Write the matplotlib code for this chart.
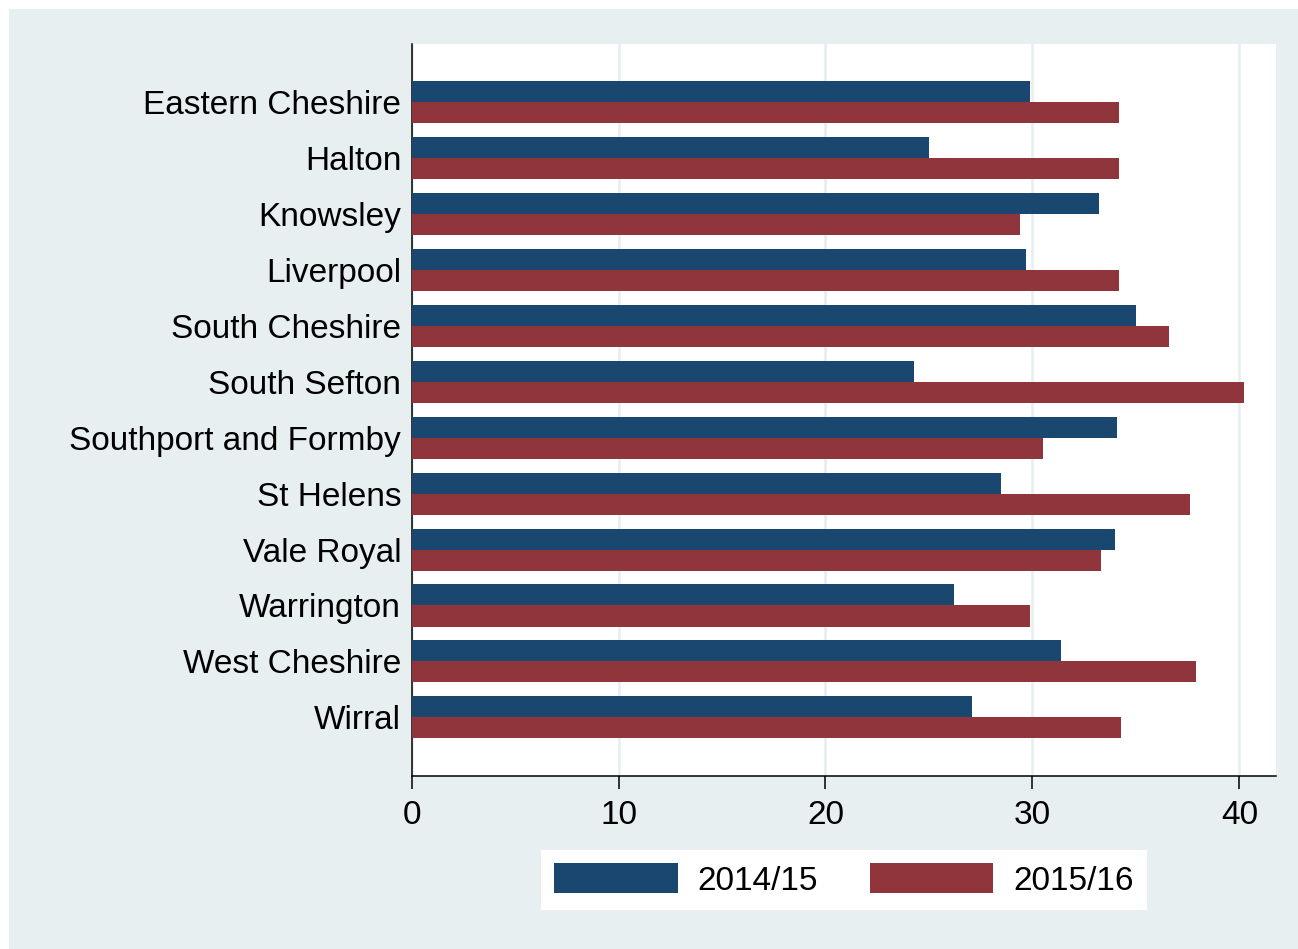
import matplotlib
matplotlib.use("Agg")
import matplotlib.pyplot as plt
from matplotlib.patches import Rectangle, Patch
import numpy as np

plt.rcParams['font.family'] = ['Liberation Sans', 'DejaVu Sans']

categories = ["Eastern Cheshire", "Halton", "Knowsley", "Liverpool", "South Cheshire",
              "South Sefton", "Southport and Formby", "St Helens", "Vale Royal",
              "Warrington", "West Cheshire", "Wirral"]
series_labels = ["2014/15", "2015/16"]
values_2014 = [29.9, 25.0, 33.2, 29.7, 35.0, 24.3, 34.1, 28.5, 34.0, 26.2, 31.4, 27.1]
values_2015 = [34.2, 34.2, 29.4, 34.2, 36.6, 40.2, 30.5, 37.6, 33.3, 29.9, 37.9, 34.3]
x_ticks = [0, 10, 20, 30, 40]

BLUE = "#1a476f"
RED = "#90353b"
BG = "#e8eff1"
GRID = "#e6eef0"
FS = 24

W, H = 1298, 949
fig = plt.figure(figsize=(W / 100, H / 100), dpi=100, facecolor="white")
fig.patches.append(Rectangle((9 / W, 0), 1 - 9 / W, 1 - 9 / H, transform=fig.transFigure,
                             facecolor=BG, edgecolor="none", zorder=-10))

left, right, top, bottom = 411.6 / W, 1276 / W, 1 - 44 / H, 1 - 776 / H
ax = fig.add_axes([left, bottom, right - left, top - bottom])
ax.set_facecolor("white")

y = np.arange(len(categories))
h = 0.376
ax.barh(y - h / 2, values_2014, height=h, color=BLUE, edgecolor="none", zorder=3, label=series_labels[0])
ax.barh(y + h / 2, values_2015, height=h, color=RED, edgecolor="none", zorder=3, label=series_labels[1])

ax.set_ylim(12.05, -1.043)
ax.set_xlim(0, 41.77)
ax.set_yticks(y)
ax.set_yticklabels(categories, fontsize=FS)
ax.tick_params(axis="y", length=0, pad=7.5)
ax.set_xticks(x_ticks)
ax.set_xticklabels([str(t) for t in x_ticks], fontsize=FS)
ax.tick_params(axis="x", direction="out", length=9.5, width=1.1, pad=8)
ax.xaxis.grid(True, color=GRID, linewidth=1.8, zorder=0)
ax.set_axisbelow(True)

for s in ["top", "right"]:
    ax.spines[s].set_visible(False)
for s in ["left", "bottom"]:
    ax.spines[s].set_linewidth(1.1)
    ax.spines[s].set_color("black")

handles = [Patch(facecolor=BLUE, edgecolor="none"), Patch(facecolor=RED, edgecolor="none")]
leg = fig.legend(handles, series_labels, loc="center", ncol=2,
                 bbox_to_anchor=(844 / W, 1 - 880 / H), bbox_transform=fig.transFigure,
                 fontsize=FS, frameon=True, fancybox=False, shadow=False,
                 handlelength=3.7, handleheight=1.0, handletextpad=0.6,
                 columnspacing=1.55, borderpad=0.4, borderaxespad=0)
leg.get_frame().set_facecolor("white")
leg.get_frame().set_edgecolor("none")
leg.get_frame().set_alpha(1)

fig.savefig("out.png", dpi=100, facecolor=fig.get_facecolor())
